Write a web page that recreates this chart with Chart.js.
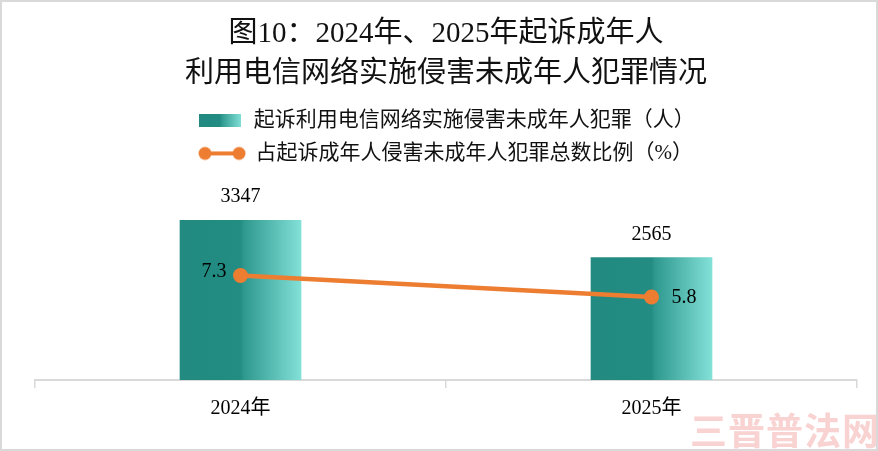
<!DOCTYPE html>
<html>
<head>
<meta charset="utf-8">
<script src="https://cdn.jsdelivr.net/npm/chart.js@4.4.1/dist/chart.umd.min.js"></script>
<style>
  body { margin: 0; background: #fff; }
  #wrap { position: relative; width: 878px; height: 451px; box-sizing: border-box; border: 2px solid #d9d9d9; background: #fff; overflow: hidden; }
  #mark { position: absolute; left: 688px; top: 400px; font: bold 37px "Noto Sans CJK SC", sans-serif; color: #f9d2d2; letter-spacing: 1px; white-space: nowrap; }
</style>
</head>
<body>
<div id="wrap">
  <canvas id="barLine" width="874" height="447"></canvas>
  <span id="mark">三晋普法网</span>
</div>
<script>
const categories = ["2024年", "2025年"];
const offenders = [3347, 2565];
const ratio = [7.3, 5.8];
const titleLines = ["图10：2024年、2025年起诉成年人", "利用电信网络实施侵害未成年人犯罪情况"];
const seriesNames = ["起诉利用电信网络实施侵害未成年人犯罪（人）", "占起诉成年人侵害未成年人犯罪总数比例（%）"];

const fontFamily = '"Liberation Serif", "Noto Sans CJK SC", serif';
const orange = "#ED7D31";
const barWidth = 121;

function tealGradient(ctx, x0, x1) {
    let g = ctx.createLinearGradient(x0, 0, x1, 0);
    g.addColorStop(0, "#228a80");
    g.addColorStop(0.5, "#238d83");
    g.addColorStop(0.53, "#2f998f");
    g.addColorStop(1, "#82e0d7");
    return g;
}

// legend markers
let boxMarker = document.createElement("canvas");
boxMarker.width = 42;
boxMarker.height = 13;
let bctx = boxMarker.getContext("2d");
bctx.fillStyle = tealGradient(bctx, 0, 42);
bctx.fillRect(0, 0, 42, 13);

let lineMarker = document.createElement("canvas");
lineMarker.width = 48;
lineMarker.height = 16;
let lctx = lineMarker.getContext("2d");
lctx.strokeStyle = orange;
lctx.lineWidth = 4;
lctx.beginPath();
lctx.moveTo(7, 8);
lctx.lineTo(41, 8);
lctx.stroke();
lctx.fillStyle = orange;
[7, 41].forEach(function (cx) {
    lctx.beginPath();
    lctx.arc(cx, 8, 6.5, 0, Math.PI * 2);
    lctx.fill();
});

// value labels
const valueLabels = {
    id: "valueLabels",
    afterDatasetsDraw(chart) {
        let ctx = chart.ctx;
        ctx.save();
        ctx.font = "20px " + fontFamily;
        ctx.fillStyle = "#000";
        ctx.textBaseline = "middle";
        ctx.textAlign = "center";
        chart.getDatasetMeta(0).data.forEach(function (bar, i) {
            ctx.fillText(String(offenders[i]), bar.x, bar.y - 23);
        });
        let pts = chart.getDatasetMeta(1).data;
        ctx.textAlign = "right";
        ctx.fillText(ratio[0].toFixed(1), pts[0].x - 14, pts[0].y - 4);
        ctx.textAlign = "left";
        ctx.fillText(ratio[1].toFixed(1), pts[1].x + 20, pts[1].y + 1);
        ctx.restore();
    }
};

let ctx = document.getElementById("barLine").getContext("2d");
let myChart = new Chart(ctx, {
    data: {
        labels: categories,
        datasets: [
            {
                type: "bar",
                label: seriesNames[0],
                data: offenders,
                yAxisID: "y",
                order: 1,
                barThickness: barWidth,
                backgroundColor: function (c) {
                    let chart = c.chart;
                    if (!chart.chartArea || c.dataIndex === undefined) return "#238d83";
                    let cx = chart.scales.x.getPixelForValue(c.dataIndex);
                    return tealGradient(chart.ctx, cx - barWidth / 2, cx + barWidth / 2);
                },
            },
            {
                type: "line",
                label: seriesNames[1],
                data: ratio,
                yAxisID: "y1",
                order: 0,
                borderColor: orange,
                backgroundColor: orange,
                borderWidth: 4.5,
                pointRadius: 7.5,
                pointBorderWidth: 0,
                pointBackgroundColor: orange,
                tension: 0,
            },
        ],
    },
    options: {
        responsive: false,
        animation: false,
        layout: { padding: { left: 33, right: 19, bottom: 19, top: 0 } },
        plugins: {
            title: {
                display: true,
                text: titleLines,
                color: "#111",
                font: { size: 29, family: fontFamily, weight: "normal", lineHeight: 1.36 },
                padding: { top: 13, bottom: 4 },
            },
            legend: {
                display: true,
                position: "top",
                labels: {
                    color: "#111",
                    font: { size: 21, family: fontFamily },
                    padding: 12,
                    usePointStyle: true,
                    pointStyleWidth: 46,
                    generateLabels: function () {
                        return [
                            { text: seriesNames[0], pointStyle: boxMarker, datasetIndex: 0, lineWidth: 0, fontColor: "#111" },
                            { text: seriesNames[1], pointStyle: lineMarker, datasetIndex: 1, lineWidth: 0, fontColor: "#111" },
                        ];
                    },
                },
            },
            tooltip: { enabled: false },
        },
        scales: {
            x: {
                grid: { offset: true, drawOnChartArea: false, drawTicks: true, tickLength: 8, color: "#d9d9d9", lineWidth: 1.5 },
                border: { display: true, color: "#d9d9d9", width: 2 },
                ticks: { color: "#000", font: { size: 20, family: fontFamily }, padding: 9 },
            },
            y: { display: false, min: 0, max: 4318 },
            y1: { display: false, position: "right", min: 0, max: 14.4 },
        },
    },
    plugins: [valueLabels],
});
</script>
</body>
</html>
